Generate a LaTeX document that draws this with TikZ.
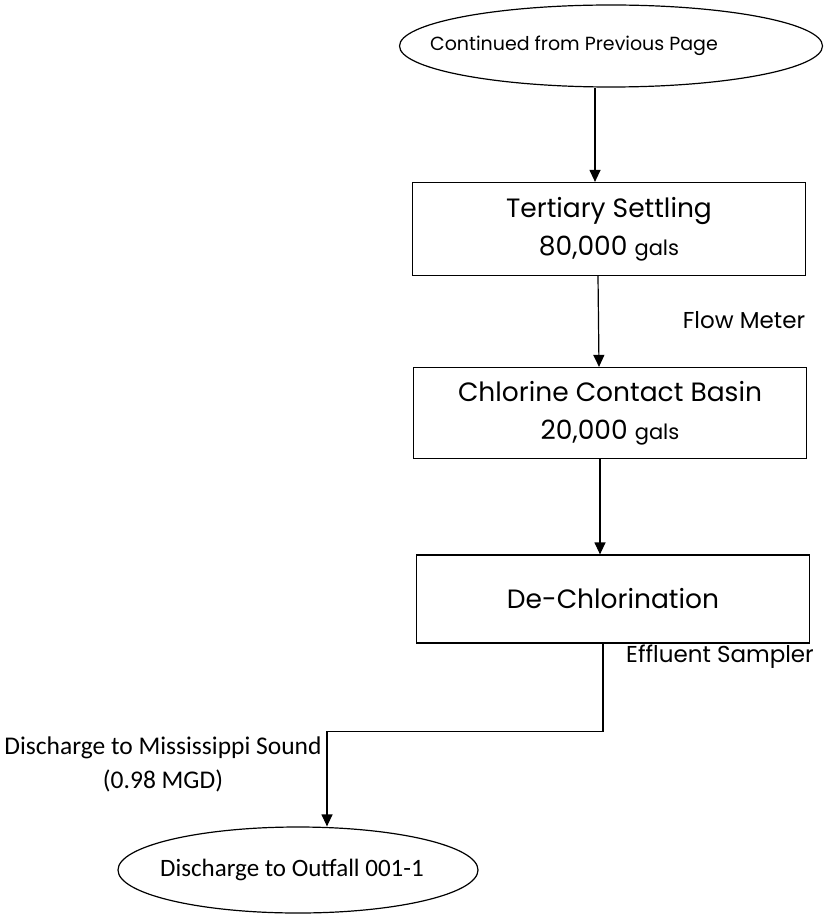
\documentclass[tikz,border=0pt]{standalone}
\usepackage{fontspec}
\setmainfont{Poppins}
\newfontfamily\calib{Carlito}
\usepackage{tikz}
\usetikzlibrary{arrows.meta,positioning,shapes.geometric}

\begin{document}
\begin{tikzpicture} %
		[
			x=1pt, y=-1pt,
			every text node part/.style={align=center},
			line width=1.2pt,
			terminal/.style={
				draw,
				ellipse,
				inner sep=0,
			},
			stage/.style={
				draw,
				rectangle,
				inner sep=0,
				minimum width=393pt,
				font={\fontsize{26.5}{38}\selectfont},
			},
			arch/.style={-{Triangle[width=11pt,length=12pt]}},
			tag/.style={font={\fontsize{23}{26}\selectfont}},
		]
		\useasboundingbox (0,0) rectangle (826,917);
		\node[terminal, minimum width=423pt, minimum height=82pt, font={\fontsize{19}{22}\selectfont}]
		(start) at (611,46) {\hspace*{-74pt}Continued from Previous Page};
		\node[stage, minimum height=93pt]
		(tert) at (609,229)
		{Tertiary Settling\\ 80,000 {\fontsize{21}{21}\selectfont gals}};
		\node[stage, minimum height=91pt]
		(chlor) at (610,413)
		{Chlorine Contact Basin\\ 20,000 {\fontsize{21}{21}\selectfont gals}};
		\node[stage, minimum height=88pt]
		(dechl) at (613,599)
		{De-Chlorination};
		\node[terminal, minimum width=360pt, minimum height=86pt, font={\calib\fontsize{25}{28}\selectfont}]
		(outfall) at (298,870) {\hspace*{-12pt}Discharge to Outfall 001-1};
		% meters along the line
		\node[tag] (meter) at (744,320) {Flow Meter};
		\node[tag] (sampler) at (720,657) {Effluent Sampler};
		\node[font={\calib\fontsize{25.5}{34}\selectfont}]
		(sound) at (163,764) {Discharge to Mississippi Sound\\ (0.98 MGD)};
		\draw[arch] ([xshift=-16pt]start.south) -- ([xshift=-14pt]tert.north);
		\draw[arch] ([xshift=-11pt]tert.south) -- ([xshift=-11pt]chlor.north);
		\draw[arch] ([xshift=-10pt]chlor.south) -- ([xshift=-13pt]dechl.north);
		\draw[arch]
		([xshift=-10pt]dechl.south)
		-- ++(0,88) -| ([xshift=29pt]outfall.north);
	\end{tikzpicture}
\end{document}
